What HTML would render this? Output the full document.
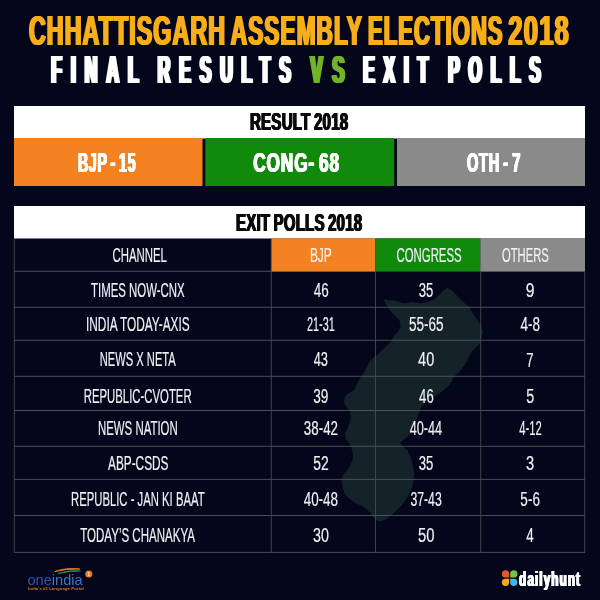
<!DOCTYPE html><html><head><meta charset="utf-8"><title>Chhattisgarh Assembly Elections 2018</title>
<style>html,body{margin:0;padding:0;background:#04061b;}body{width:600px;height:600px;overflow:hidden;}svg{display:block;font-family:"Liberation Sans",sans-serif;}</style></head><body>
<svg width="600" height="600" viewBox="0 0 600 600">
<rect width="600" height="600" fill="#04061b"/>
<polygon fill="#142229" points="447.6,287.8 451.8,290.6 456.1,294.8 460.3,299.1 464.6,303.3 468.8,306.2 471.7,311.8 475.9,317.5 480.2,324.6 483.0,331.7 481.6,337.3 480.2,343.0 475.9,347.3 471.7,351.5 468.8,357.2 466.0,362.8 461.8,368.5 458.9,372.8 454.7,375.6 451.8,381.3 447.6,386.9 440.0,393.0 432.0,398.0 426.0,402.0 421.6,406.5 418.5,414.0 416.2,421.7 412.0,430.0 407.5,436.9 402.5,440.5 400.0,443.0 402.8,446.5 407.5,450.5 411.0,458.0 413.0,465.0 414.2,473.0 413.6,481.0 411.0,490.0 407.0,498.0 402.0,505.0 396.5,510.5 391.0,515.5 385.5,519.5 379.5,521.5 376.0,519.9 372.5,516.4 370.2,512.9 366.7,509.4 362.0,505.9 354.3,502.4 349.7,498.9 345.0,494.2 342.7,488.4 341.5,481.4 342.7,475.5 346.2,470.9 349.7,466.2 352.0,461.5 353.2,455.7 352.0,449.9 349.7,444.0 346.2,439.4 345.0,433.5 347.3,428.8 349.7,423.0 350.8,417.2 349.7,411.3 346.2,406.7 343.8,402.0 345.0,396.0 354.1,389.8 356.9,384.1 359.8,378.4 364.0,372.8 366.8,367.1 369.7,361.4 373.9,357.2 378.2,354.3 382.4,350.1 386.7,345.8 390.9,341.6 393.8,335.9 398.0,331.7 400.8,326.0 399.4,320.3 395.2,316.1 390.9,311.8 388.1,307.6 385.3,303.3 383.8,299.1 389.5,299.9 396.6,301.1 403.7,303.3 412.2,301.9 420.7,303.3 429.2,301.9 434.8,299.1 439.1,294.8 443.3,290.6"/>
<rect x="14" y="106" width="571" height="32.5" fill="#fff"/>
<rect x="14" y="138" width="188.5" height="48" fill="#f58220"/>
<rect x="205.3" y="138" width="188.9" height="48" fill="#118a0b"/>
<rect x="397" y="138" width="188" height="48" fill="#8a8a8a"/>
<rect x="14" y="206" width="571" height="32.5" fill="#fff"/>
<rect x="271" y="238.3" width="104.4" height="33.3" fill="#f58220"/>
<rect x="375.3" y="238.3" width="105.1" height="33.3" fill="#118a0b"/>
<rect x="480.3" y="238.3" width="104.7" height="33.3" fill="#8a8a8a"/>
<g stroke="#57585f" stroke-width="0.85" fill="none"><line x1="14" x2="271" y1="271.3" y2="271.3"/><line x1="14" x2="585" y1="307.30" y2="307.30"/><line x1="14" x2="585" y1="340.30" y2="340.30"/><line x1="14" x2="585" y1="376.30" y2="376.30"/><line x1="14" x2="585" y1="410.50" y2="410.50"/><line x1="14" x2="585" y1="446.30" y2="446.30"/><line x1="14" x2="585" y1="479.40" y2="479.40"/><line x1="14" x2="585" y1="515.50" y2="515.50"/><line x1="14" x2="585" y1="552.40" y2="552.40"/></g><g stroke="#4b4c55" stroke-width="0.85" fill="none"><line x1="14.30" x2="14.30" y1="238.50" y2="552.9"/><line x1="271.30" x2="271.30" y1="238.50" y2="552.9"/><line x1="375.50" x2="375.50" y1="271.50" y2="552.9"/><line x1="480.70" x2="480.70" y1="271.50" y2="552.9"/><line x1="584.70" x2="584.70" y1="271.50" y2="552.9"/></g>
<g id="oneindia-mark">
<path d="M54.6 571.6 Q66 567.2 79.8 569.0 Q67 568.6 54.6 571.6Z" fill="#e8791f" stroke="#e8791f" stroke-width="0.9" stroke-linejoin="round"/>
<path d="M58.2 573.5 Q69 569.6 80.4 570.9 Q69.5 570.9 58.2 573.5Z" fill="#2f9a3c" stroke="#2f9a3c" stroke-width="0.7" stroke-linejoin="round"/>
<circle cx="88.8" cy="574" r="3.6" fill="#ef7a1d"/>
</g>
<g id="dailyhunt-mark">
<path d="M509.1 577.6 h-3.6 a3.65 3.65 0 1 1 3.65 -3.65 z" fill="#e5562d"/>
<path d="M510.2 577.6 h3.6 a3.65 3.65 0 1 0 -3.65 -3.65 z" fill="#78c043"/>
<path d="M509.1 578.7 h-3.6 a3.65 3.65 0 1 0 3.65 3.65 z" fill="#f8a81b"/>
<path d="M510.2 578.7 h3.6 a3.65 3.65 0 1 1 -3.65 3.65 z" fill="#43b4e4"/>
</g>

<g style="filter:drop-shadow(1.00px 0 0 #f8ae1a) drop-shadow(-1.00px 0 0 #f8ae1a)"><text id="t0" transform="translate(28.90 45.40) scale(0.5571 1)" font-size="41.65" font-weight="bold" fill="#f8ae1a" letter-spacing="2">CHHATTISGARH</text></g>
<g style="filter:drop-shadow(1.00px 0 0 #f8ae1a) drop-shadow(-1.00px 0 0 #f8ae1a)"><text id="t1" transform="translate(230.76 45.40) scale(0.5428 1)" font-size="41.65" font-weight="bold" fill="#f8ae1a" letter-spacing="2">ASSEMBLY</text></g>
<g style="filter:drop-shadow(1.00px 0 0 #f8ae1a) drop-shadow(-1.00px 0 0 #f8ae1a)"><text id="t2" transform="translate(368.06 45.40) scale(0.5291 1)" font-size="41.65" font-weight="bold" fill="#f8ae1a" letter-spacing="2">ELECTIONS</text></g>
<g style="filter:drop-shadow(1.00px 0 0 #f8ae1a) drop-shadow(-1.00px 0 0 #f8ae1a)"><text id="t3" transform="translate(508.28 45.40) scale(0.6133 1)" font-size="41.65" font-weight="bold" fill="#f8ae1a" letter-spacing="2">2018</text></g>
<g style="filter:drop-shadow(1.10px 0 0 #ffffff) drop-shadow(-1.10px 0 0 #ffffff)"><text id="t4" transform="translate(51.76 83.00) scale(0.4528 1)" font-size="38.46" font-weight="bold" fill="#ffffff" letter-spacing="20">FINAL</text></g>
<g style="filter:drop-shadow(1.10px 0 0 #ffffff) drop-shadow(-1.10px 0 0 #ffffff)"><text id="t5" transform="translate(158.32 83.00) scale(0.4453 1)" font-size="38.92" font-weight="bold" fill="#ffffff" letter-spacing="20">RESULTS</text></g>
<g style="filter:drop-shadow(1.10px 0 0 #72b427) drop-shadow(-1.10px 0 0 #72b427)"><text id="t6" transform="translate(311.00 82.94) scale(0.4758 1)" font-size="38.76" font-weight="bold" fill="#72b427" letter-spacing="20">VS</text></g>
<g style="filter:drop-shadow(1.10px 0 0 #ffffff) drop-shadow(-1.10px 0 0 #ffffff)"><text id="t7" transform="translate(363.75 83.00) scale(0.4463 1)" font-size="38.46" font-weight="bold" fill="#ffffff" letter-spacing="20">EXIT</text></g>
<g style="filter:drop-shadow(1.10px 0 0 #ffffff) drop-shadow(-1.10px 0 0 #ffffff)"><text id="t8" transform="translate(448.78 83.00) scale(0.4404 1)" font-size="38.92" font-weight="bold" fill="#ffffff" letter-spacing="20">POLLS</text></g>
<g style="filter:drop-shadow(0.40px 0 0 #0a0a0a) drop-shadow(-0.40px 0 0 #0a0a0a)"><text id="t9" transform="translate(250.45 129.60) scale(0.6230 1)" font-size="24.31" font-weight="bold" fill="#0a0a0a" letter-spacing="0.3" word-spacing="-1.5">RESULT 2018</text></g>
<g style="filter:drop-shadow(0.50px 0 0 #ffffff) drop-shadow(-0.50px 0 0 #ffffff)"><text id="t10" transform="translate(78.38 171.78) scale(0.4958 1)" font-size="28.47" font-weight="bold" fill="#ffffff" letter-spacing="1.5" word-spacing="-3">BJP - 15</text></g>
<g style="filter:drop-shadow(0.50px 0 0 #ffffff) drop-shadow(-0.50px 0 0 #ffffff)"><text id="t11" transform="translate(253.67 171.78) scale(0.6127 1)" font-size="28.10" font-weight="bold" fill="#ffffff" letter-spacing="1.5" word-spacing="-3">CONG- 68</text></g>
<g style="filter:drop-shadow(0.50px 0 0 #ffffff) drop-shadow(-0.50px 0 0 #ffffff)"><text id="t12" transform="translate(467.45 171.78) scale(0.5190 1)" font-size="28.12" font-weight="bold" fill="#ffffff" letter-spacing="1.5" word-spacing="-3">OTH - 7</text></g>
<g style="filter:drop-shadow(0.40px 0 0 #0a0a0a) drop-shadow(-0.40px 0 0 #0a0a0a)"><text id="t13" transform="translate(236.50 230.59) scale(0.6155 1)" font-size="24.44" font-weight="bold" fill="#0a0a0a" letter-spacing="0.3" word-spacing="-1.5">EXIT POLLS 2018</text></g>
<text id="t14" transform="translate(112.48 261.80) scale(0.5702 1)" font-size="20.01" font-weight="normal" fill="#f2f2f5" stroke="#f2f2f5" stroke-width="0.15" style="vector-effect:non-scaling-stroke">CHANNEL</text>
<text id="t15" transform="translate(309.90 261.79) scale(0.5872 1)" font-size="20.36" font-weight="normal" fill="#f2f2f5" stroke="#f2f2f5" stroke-width="0.15" style="vector-effect:non-scaling-stroke">BJP</text>
<text id="t16" transform="translate(396.49 261.80) scale(0.5694 1)" font-size="20.01" font-weight="normal" fill="#f2f2f5" stroke="#f2f2f5" stroke-width="0.15" style="vector-effect:non-scaling-stroke">CONGRESS</text>
<text id="t17" transform="translate(501.99 261.80) scale(0.5617 1)" font-size="20.01" font-weight="normal" fill="#f2f2f5" stroke="#f2f2f5" stroke-width="0.15" style="vector-effect:non-scaling-stroke">OTHERS</text>
<text id="t18" transform="translate(90.99 297.15) scale(0.5657 1)" font-size="20.21" font-weight="normal" fill="#f2f2f5" stroke="#f2f2f5" stroke-width="0.15" style="vector-effect:non-scaling-stroke">TIMES NOW-CNX</text>
<text id="t19" transform="translate(85.96 330.89) scale(0.5879 1)" font-size="20.19" font-weight="normal" fill="#f2f2f5" stroke="#f2f2f5" stroke-width="0.15" style="vector-effect:non-scaling-stroke">INDIA TODAY-AXIS</text>
<text id="t20" transform="translate(99.76 366.40) scale(0.5519 1)" font-size="20.21" font-weight="normal" fill="#f2f2f5" stroke="#f2f2f5" stroke-width="0.15" style="vector-effect:non-scaling-stroke">NEWS X NETA</text>
<text id="t21" transform="translate(83.73 402.89) scale(0.5626 1)" font-size="20.21" font-weight="normal" fill="#f2f2f5" stroke="#f2f2f5" stroke-width="0.15" style="vector-effect:non-scaling-stroke">REPUBLIC-CVOTER</text>
<text id="t22" transform="translate(97.95 435.14) scale(0.5659 1)" font-size="20.22" font-weight="normal" fill="#f2f2f5" stroke="#f2f2f5" stroke-width="0.15" style="vector-effect:non-scaling-stroke">NEWS NATION</text>
<text id="t23" transform="translate(107.98 469.99) scale(0.5860 1)" font-size="20.22" font-weight="normal" fill="#f2f2f5" stroke="#f2f2f5" stroke-width="0.15" style="vector-effect:non-scaling-stroke">ABP-CSDS</text>
<text id="t24" transform="translate(70.99 506.35) scale(0.5599 1)" font-size="20.21" font-weight="normal" fill="#f2f2f5" stroke="#f2f2f5" stroke-width="0.15" style="vector-effect:non-scaling-stroke">REPUBLIC - JAN KI BAAT</text>
<text id="t25" transform="translate(80.23 541.99) scale(0.5705 1)" font-size="20.22" font-weight="normal" fill="#f2f2f5" stroke="#f2f2f5" stroke-width="0.15" style="vector-effect:non-scaling-stroke">TODAY’S CHANAKYA</text>
<text id="t26" transform="translate(313.65 297.14) scale(0.6677 1)" font-size="20.20" font-weight="normal" fill="#f2f2f5" stroke="#f2f2f5" stroke-width="0.15" style="vector-effect:non-scaling-stroke">46</text>
<text id="t27" transform="translate(306.99 330.90) scale(0.5359 1)" font-size="20.21" font-weight="normal" fill="#f2f2f5" stroke="#f2f2f5" stroke-width="0.15" style="vector-effect:non-scaling-stroke">21-31</text>
<text id="t28" transform="translate(313.63 366.40) scale(0.6344 1)" font-size="20.21" font-weight="normal" fill="#f2f2f5" stroke="#f2f2f5" stroke-width="0.15" style="vector-effect:non-scaling-stroke">43</text>
<text id="t29" transform="translate(313.31 402.89) scale(0.6736 1)" font-size="20.19" font-weight="normal" fill="#f2f2f5" stroke="#f2f2f5" stroke-width="0.15" style="vector-effect:non-scaling-stroke">39</text>
<text id="t30" transform="translate(303.85 435.14) scale(0.6611 1)" font-size="20.22" font-weight="normal" fill="#f2f2f5" stroke="#f2f2f5" stroke-width="0.15" style="vector-effect:non-scaling-stroke">38-42</text>
<text id="t31" transform="translate(313.30 469.99) scale(0.6864 1)" font-size="20.22" font-weight="normal" fill="#f2f2f5" stroke="#f2f2f5" stroke-width="0.15" style="vector-effect:non-scaling-stroke">52</text>
<text id="t32" transform="translate(303.68 506.34) scale(0.6643 1)" font-size="20.21" font-weight="normal" fill="#f2f2f5" stroke="#f2f2f5" stroke-width="0.15" style="vector-effect:non-scaling-stroke">40-48</text>
<text id="t33" transform="translate(313.04 541.99) scale(0.7081 1)" font-size="20.21" font-weight="normal" fill="#f2f2f5" stroke="#f2f2f5" stroke-width="0.15" style="vector-effect:non-scaling-stroke">30</text>
<text id="t34" transform="translate(418.83 297.14) scale(0.6481 1)" font-size="20.19" font-weight="normal" fill="#f2f2f5" stroke="#f2f2f5" stroke-width="0.15" style="vector-effect:non-scaling-stroke">35</text>
<text id="t35" transform="translate(408.88 330.90) scale(0.6707 1)" font-size="20.21" font-weight="normal" fill="#f2f2f5" stroke="#f2f2f5" stroke-width="0.15" style="vector-effect:non-scaling-stroke">55-65</text>
<text id="t36" transform="translate(418.12 366.39) scale(0.7168 1)" font-size="20.19" font-weight="normal" fill="#f2f2f5" stroke="#f2f2f5" stroke-width="0.15" style="vector-effect:non-scaling-stroke">40</text>
<text id="t37" transform="translate(419.12 402.89) scale(0.6483 1)" font-size="20.19" font-weight="normal" fill="#f2f2f5" stroke="#f2f2f5" stroke-width="0.15" style="vector-effect:non-scaling-stroke">46</text>
<text id="t38" transform="translate(409.69 435.13) scale(0.6290 1)" font-size="20.21" font-weight="normal" fill="#f2f2f5" stroke="#f2f2f5" stroke-width="0.15" style="vector-effect:non-scaling-stroke">40-44</text>
<text id="t39" transform="translate(418.82 469.99) scale(0.6496 1)" font-size="20.22" font-weight="normal" fill="#f2f2f5" stroke="#f2f2f5" stroke-width="0.15" style="vector-effect:non-scaling-stroke">35</text>
<text id="t40" transform="translate(410.42 506.34) scale(0.6057 1)" font-size="20.21" font-weight="normal" fill="#f2f2f5" stroke="#f2f2f5" stroke-width="0.15" style="vector-effect:non-scaling-stroke">37-43</text>
<text id="t41" transform="translate(418.00 541.99) scale(0.7330 1)" font-size="20.20" font-weight="normal" fill="#f2f2f5" stroke="#f2f2f5" stroke-width="0.15" style="vector-effect:non-scaling-stroke">50</text>
<text id="t42" transform="translate(525.68 297.14) scale(0.7772 1)" font-size="20.19" font-weight="normal" fill="#f2f2f5" stroke="#f2f2f5" stroke-width="0.15" style="vector-effect:non-scaling-stroke">9</text>
<text id="t43" transform="translate(520.41 330.89) scale(0.6708 1)" font-size="20.19" font-weight="normal" fill="#f2f2f5" stroke="#f2f2f5" stroke-width="0.15" style="vector-effect:non-scaling-stroke">4-8</text>
<text id="t44" transform="translate(526.23 366.66) scale(0.6347 1)" font-size="20.61" font-weight="normal" fill="#f2f2f5" stroke="#f2f2f5" stroke-width="0.15" style="vector-effect:non-scaling-stroke">7</text>
<text id="t45" transform="translate(526.16 402.89) scale(0.7109 1)" font-size="20.24" font-weight="normal" fill="#f2f2f5" stroke="#f2f2f5" stroke-width="0.15" style="vector-effect:non-scaling-stroke">5</text>
<text id="t46" transform="translate(519.20 435.41) scale(0.5463 1)" font-size="20.60" font-weight="normal" fill="#f2f2f5" stroke="#f2f2f5" stroke-width="0.15" style="vector-effect:non-scaling-stroke">4-12</text>
<text id="t47" transform="translate(525.94 469.99) scale(0.7222 1)" font-size="20.20" font-weight="normal" fill="#f2f2f5" stroke="#f2f2f5" stroke-width="0.15" style="vector-effect:non-scaling-stroke">3</text>
<text id="t48" transform="translate(520.36 506.34) scale(0.6726 1)" font-size="20.19" font-weight="normal" fill="#f2f2f5" stroke="#f2f2f5" stroke-width="0.15" style="vector-effect:non-scaling-stroke">5-6</text>
<text id="t49" transform="translate(526.30 542.26) scale(0.6514 1)" font-size="20.65" font-weight="normal" fill="#f2f2f5" stroke="#f2f2f5" stroke-width="0.15" style="vector-effect:non-scaling-stroke">4</text>
<text id="t50" transform="translate(27.49 584.56) scale(0.9499 1)" font-size="15.39" font-weight="normal" fill="#3a50a8"><tspan fill="#3a50a8">one</tspan><tspan fill="#3d74cc">india</tspan></text>
<text id="t51" transform="translate(28.04 589.52) scale(1.0686 1)" font-size="4.14" font-weight="bold" fill="#d9721e">India’s #1 Language Portal</text>
<g style="filter:drop-shadow(0.10px 0 0 #ffffff) drop-shadow(-0.10px 0 0 #ffffff)"><text id="t52" transform="translate(519.62 586.27) scale(0.5752 1)" font-size="20.61" font-weight="bold" fill="#ffffff" letter-spacing="1.8">dailyhunt</text></g>
<text id="t53" transform="translate(87.65 576.00) scale(0.6232 1)" font-size="5.61" font-weight="bold" fill="#ffffff">1</text>
</svg></body></html>
